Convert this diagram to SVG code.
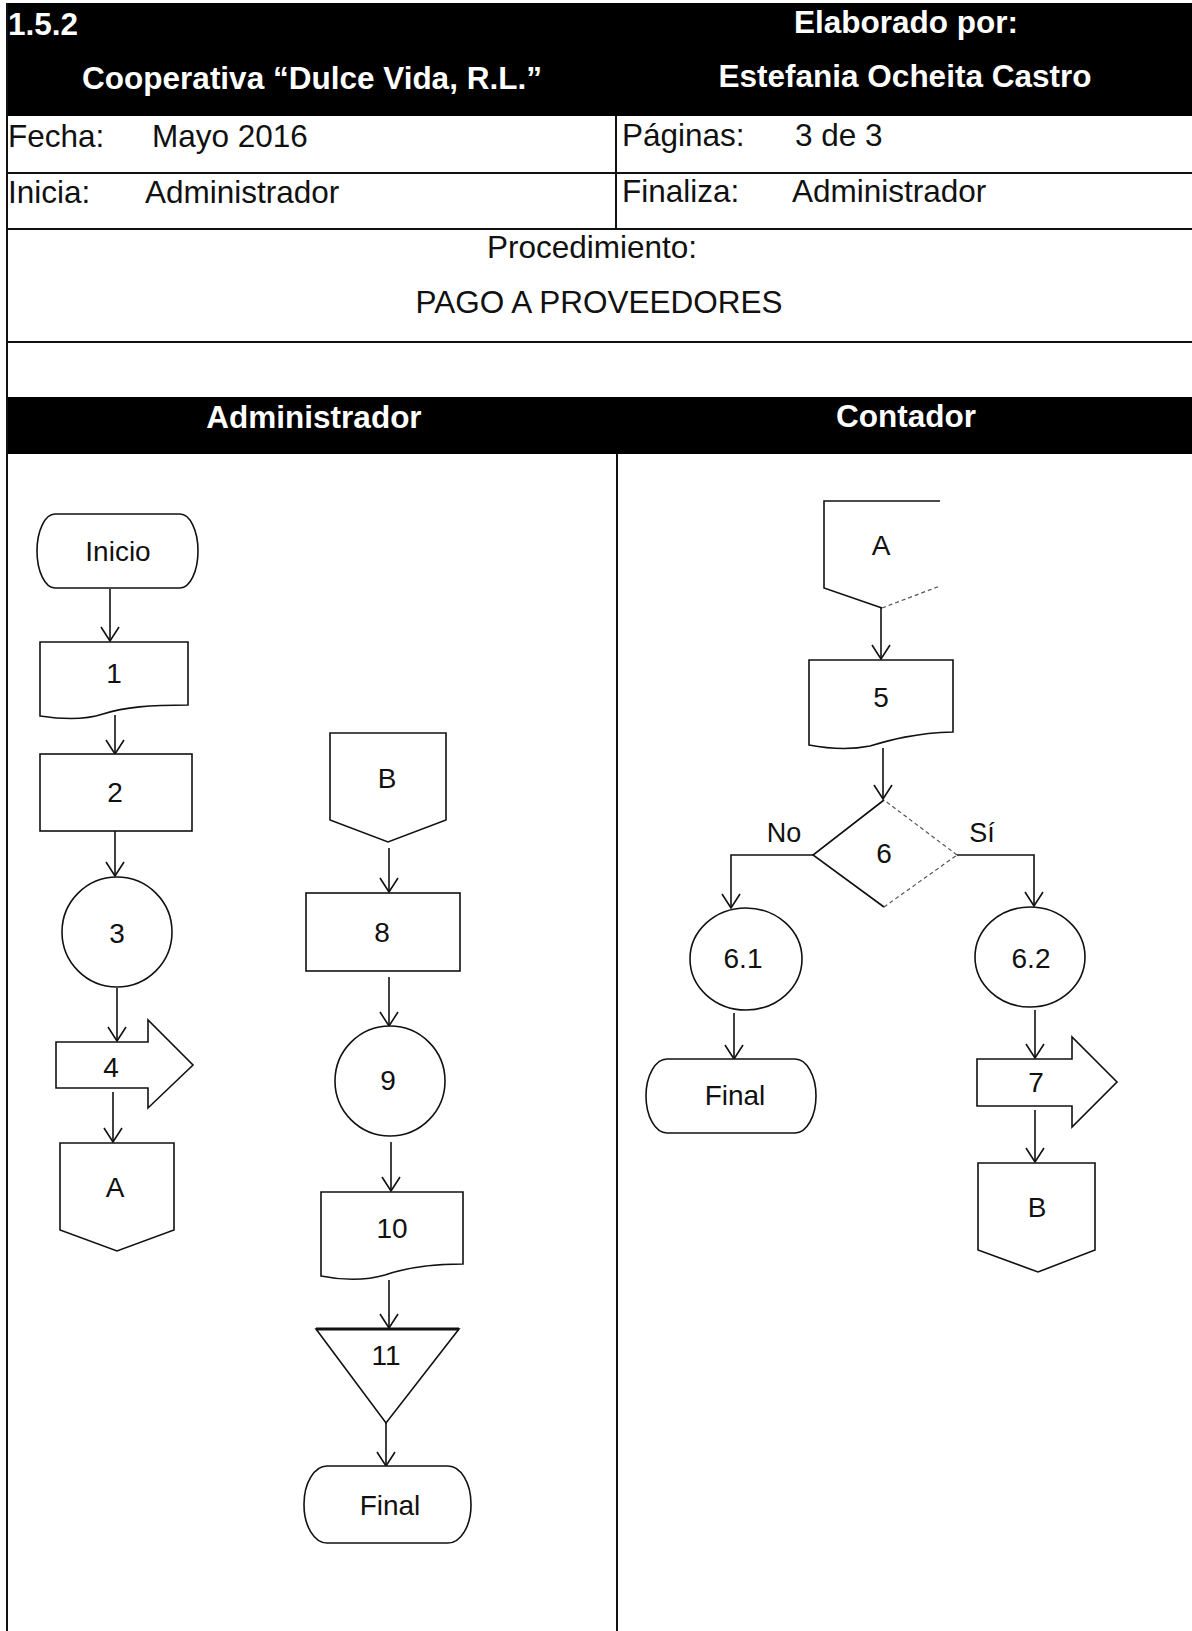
<svg xmlns="http://www.w3.org/2000/svg" width="1192" height="1631" viewBox="0 0 1192 1631">
<style>
.ln{stroke:#111;stroke-width:2;fill:none}
.shape{fill:#fff;stroke:#111;stroke-width:1.6}
.faint{fill:none;stroke:#555;stroke-width:1.2;stroke-dasharray:4 3}
.conn{stroke:#111;stroke-width:1.6;fill:none;marker-end:url(#arr)}
.hb{font-family:"Liberation Sans",Arial,sans-serif;font-weight:bold;font-size:31.5px;fill:#fff}
.ht{font-family:"Liberation Sans",Arial,sans-serif;font-size:31.5px;fill:#111}
.nl{font-family:"Liberation Sans",Arial,sans-serif;font-size:28px;fill:#111;text-anchor:middle}
.mid{text-anchor:middle}
</style>
<defs>
<marker id="arr" viewBox="0 0 16 20" refX="15" refY="10" markerWidth="16" markerHeight="20" markerUnits="userSpaceOnUse" orient="auto">
<path d="M1,1 L15,10 L1,19" fill="none" stroke="#111" stroke-width="1.6"/>
</marker>
</defs>
<rect x="0" y="0" width="1192" height="1631" fill="#fff"/>

<g id="header">
<rect x="6" y="3" width="1186" height="113" fill="#000"/>
<text class="hb" x="8" y="35">1.5.2</text>
<text class="hb mid" x="906" y="33">Elaborado por:</text>
<text class="hb mid" x="312" y="89">Cooperativa “Dulce Vida, R.L.”</text>
<text class="hb mid" x="905" y="87">Estefania Ocheita Castro</text>
<line class="ln" x1="616" y1="116" x2="616" y2="229"/>
<line class="ln" x1="7" y1="173" x2="1192" y2="173"/>
<line class="ln" x1="7" y1="229" x2="1192" y2="229"/>
<text class="ht" x="8" y="147">Fecha:</text>
<text class="ht" x="152" y="147">Mayo 2016</text>
<text class="ht" x="8" y="203">Inicia:</text>
<text class="ht" x="145" y="203">Administrador</text>
<text class="ht" x="622" y="146">Páginas:</text>
<text class="ht" x="795" y="146">3 de 3</text>
<text class="ht" x="622" y="202">Finaliza:</text>
<text class="ht" x="792" y="202">Administrador</text>
<text class="ht mid" x="592" y="258">Procedimiento:</text>
<text class="ht mid" x="599" y="313">PAGO A PROVEEDORES</text>
<line class="ln" x1="7" y1="342" x2="1192" y2="342"/>
<rect x="6" y="397" width="1186" height="57" fill="#000"/>
<text class="hb mid" x="314" y="428">Administrador</text>
<text class="hb mid" x="906" y="427">Contador</text>
<line class="ln" x1="617" y1="454" x2="617" y2="1631"/>
<line class="ln" x1="7" y1="3" x2="7" y2="1631"/>
</g>

<g id="connectors">
<line class="conn" x1="110" y1="589" x2="110" y2="641"/>
<line class="conn" x1="115" y1="715" x2="115" y2="754"/>
<line class="conn" x1="115" y1="831" x2="115" y2="876"/>
<line class="conn" x1="117" y1="988" x2="117" y2="1041"/>
<line class="conn" x1="113" y1="1092" x2="113" y2="1142"/>
<line class="conn" x1="389" y1="848" x2="389" y2="892"/>
<line class="conn" x1="389" y1="977" x2="389" y2="1026"/>
<line class="conn" x1="391" y1="1142" x2="391" y2="1191"/>
<line class="conn" x1="389" y1="1280" x2="389" y2="1328"/>
<line class="conn" x1="386" y1="1423" x2="386" y2="1466"/>
<line class="conn" x1="881" y1="608" x2="881" y2="659"/>
<line class="conn" x1="883" y1="748" x2="883" y2="799"/>
<path class="conn" d="M813,855 H731 V908"/>
<path class="conn" d="M957,855 H1034 V906"/>
<line class="conn" x1="734" y1="1013" x2="734" y2="1059"/>
<line class="conn" x1="1035" y1="1010" x2="1035" y2="1058"/>
<line class="conn" x1="1035" y1="1110" x2="1035" y2="1162"/>
<text class="ht mid" x="784" y="842" style="font-size:27px">No</text>
<text class="ht mid" x="982" y="842" style="font-size:27px">Sí</text>
</g>

<g id="n-inicio">
<rect class="shape" x="37" y="514" width="161" height="74" rx="18" ry="37"/>
<text class="nl" x="118" y="561">Inicio</text>
</g>
<g id="n-1">
<path class="shape" d="M40,642 H188 V705 C150,705 125,707 103,714 C85,720 60,719 40,716 Z"/>
<text class="nl" x="114" y="683">1</text>
</g>
<g id="n-2">
<rect class="shape" x="40" y="754" width="152" height="77"/>
<text class="nl" x="115" y="802">2</text>
</g>
<g id="n-3">
<circle class="shape" cx="117" cy="932" r="55"/>
<text class="nl" x="117" y="943">3</text>
</g>
<g id="n-4">
<path class="shape" d="M56,1042 H148 V1020 L193,1065 L148,1108 V1088 H56 Z"/>
<text class="nl" x="111" y="1077">4</text>
</g>
<g id="n-A1">
<path class="shape" d="M60,1143 H174 V1230 L117,1251 L60,1230 Z"/>
<text class="nl" x="115" y="1197">A</text>
</g>
<g id="n-B1">
<path class="shape" d="M330,733 H446 V820 L388,842 L330,820 Z"/>
<text class="nl" x="387" y="788">B</text>
</g>
<g id="n-8">
<rect class="shape" x="306" y="893" width="154" height="78"/>
<text class="nl" x="382" y="942">8</text>
</g>
<g id="n-9">
<circle class="shape" cx="390" cy="1081" r="55"/>
<text class="nl" x="388" y="1090">9</text>
</g>
<g id="n-10">
<path class="shape" d="M321,1192 H463 V1264 C430,1264 405,1268 385,1275 C365,1281 340,1280 321,1276 Z"/>
<text class="nl" x="392" y="1238">10</text>
</g>
<g id="n-11">
<path class="shape" d="M316,1329 H459 L386,1423 Z"/>
<line x1="316" y1="1329" x2="459" y2="1329" stroke="#111" stroke-width="3"/>
<text class="nl" x="386" y="1365">11</text>
</g>
<g id="n-final1">
<rect class="shape" x="304" y="1466" width="167" height="77" rx="23" ry="38"/>
<text class="nl" x="390" y="1515">Final</text>
</g>

<g id="n-A2">
<path d="M940,501 H824 V588 L882,608" fill="#fff" stroke="#111" stroke-width="1.6"/>
<path class="faint" d="M882,608 L940,586"/>
<text class="nl" x="881" y="555">A</text>
</g>
<g id="n-5">
<path class="shape" d="M809,660 H953 V732 C915,733 890,740 870,746 C850,750 830,749 809,745 Z"/>
<text class="nl" x="881" y="707">5</text>
</g>
<g id="n-6">
<path d="M957,855 L884,907 L813,855 L884,800 L957,855 Z" fill="#fff" stroke="none"/>
<path d="M957,855 L884,800 M884,907 L957,855" class="faint"/>
<path d="M884,800 L813,855 L884,907" fill="none" stroke="#111" stroke-width="1.6"/>
<text class="nl" x="884" y="863">6</text>
</g>
<g id="n-6-1">
<ellipse class="shape" cx="746" cy="959" rx="56" ry="51"/>
<text class="nl" x="743" y="968">6.1</text>
</g>
<g id="n-6-2">
<ellipse class="shape" cx="1030" cy="957" rx="55" ry="50"/>
<text class="nl" x="1031" y="968">6.2</text>
</g>
<g id="n-final2">
<rect class="shape" x="646" y="1059" width="170" height="74" rx="21" ry="37"/>
<text class="nl" x="735" y="1105">Final</text>
</g>
<g id="n-7">
<path class="shape" d="M977,1059 H1072 V1037 L1117,1082 L1072,1127 V1106 H977 Z"/>
<text class="nl" x="1036" y="1092">7</text>
</g>
<g id="n-B2">
<path class="shape" d="M978,1163 H1095 V1250 L1038,1272 L978,1250 Z"/>
<text class="nl" x="1037" y="1217">B</text>
</g>
</svg>
